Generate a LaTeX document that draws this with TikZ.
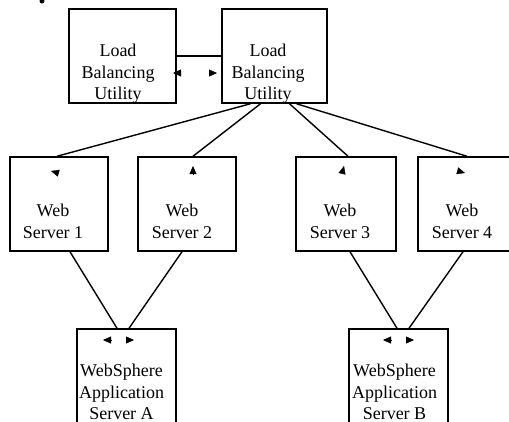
\documentclass[tikz,border=0pt]{standalone}
\usepackage{fontspec}
\setmainfont{Liberation Serif}
\usetikzlibrary{arrows.meta}

\tikzset{
  box/.style={draw,line width=1.5pt,inner sep=0pt,minimum height=94pt},
  caption/.style={align=center,inner sep=0pt,font=\fontsize{18}{21.5}\selectfont},
  link/.style={line width=1.4pt},
  head/.style={-{Triangle[length=8pt,width=7pt]},line width=0.4pt}
}

\begin{document}
\begin{tikzpicture}[x=1pt,y=-1pt]
\clip (0,0) rectangle (509,421);

%draw stray dot
\fill (42,1) circle (2.5);

%draw load balancers
\node[box,minimum width=107pt] (lb1) at (122.5,56) {};
\node[box,minimum width=105pt] (lb2) at (274.5,56) {};
\node[caption] (lb1text) at (118,74) {Load\\Balancing\\Utility};
\node[caption] (lb2text) at (268,74) {Load\\Balancing\\Utility};
\draw[link] (lb1) -- (lb2);

%draw web servers
\foreach \name/\x/\w/\tx/\n in {ws1/59/98/53/1, ws2/187/98/182/2, ws3/346/100/340/3, ws4/467/98/462/4}
    {
    \node[box,minimum width=\w pt] (\name) at (\x,204) {};
    \node[caption] (\name text) at (\tx,221.5) {Web\\Server \n};
    }

%draw application servers
\node[box,minimum width=99pt] (wasA) at (126.5,376) {};
\node[box,minimum width=99pt] (wasB) at (398.5,376) {};
\node[caption] (wasAtext) at (121.5,392) {WebSphere\\Application\\Server A};
\node[caption] (wasBtext) at (394.5,392) {WebSphere\\Application\\Server B};

%connect balancer to web servers
\foreach \ws/\from/\to in {ws1/-24/-2, ws2/-14/6, ws3/15/2, ws4/22/0}
    {
    \draw[link] ([xshift=\from pt]lb2.south) -- ([xshift=\to pt]\ws.north);
    }

%connect web servers to application servers
\foreach \ws/\was/\from/\to in {ws1/wasA/11/-9.5, ws2/wasA/-5/2.5, ws3/wasB/4/-1.5, ws4/wasB/-4/10.5}
    {
    \draw[link] ([xshift=\from pt]\ws.south) -- ([xshift=\to pt]\was.north);
    }

%draw loose arrow heads
\draw[head] (180,73) -- (173,73);
\draw[head] (210,73) -- (217,73);
\draw[head] (58,173) -- (51,171);
\draw[head] (193,174) -- (193,166);
\draw[head] (342,174) -- (344,166);
\draw[head] (458,171) -- (465,173);
\foreach \x in {107,387}
    {
    \draw[head] (\x+4,340) -- (\x-4,340);
    \draw[head] (\x+19,340) -- (\x+27,340);
    }

\end{tikzpicture}
\end{document}
